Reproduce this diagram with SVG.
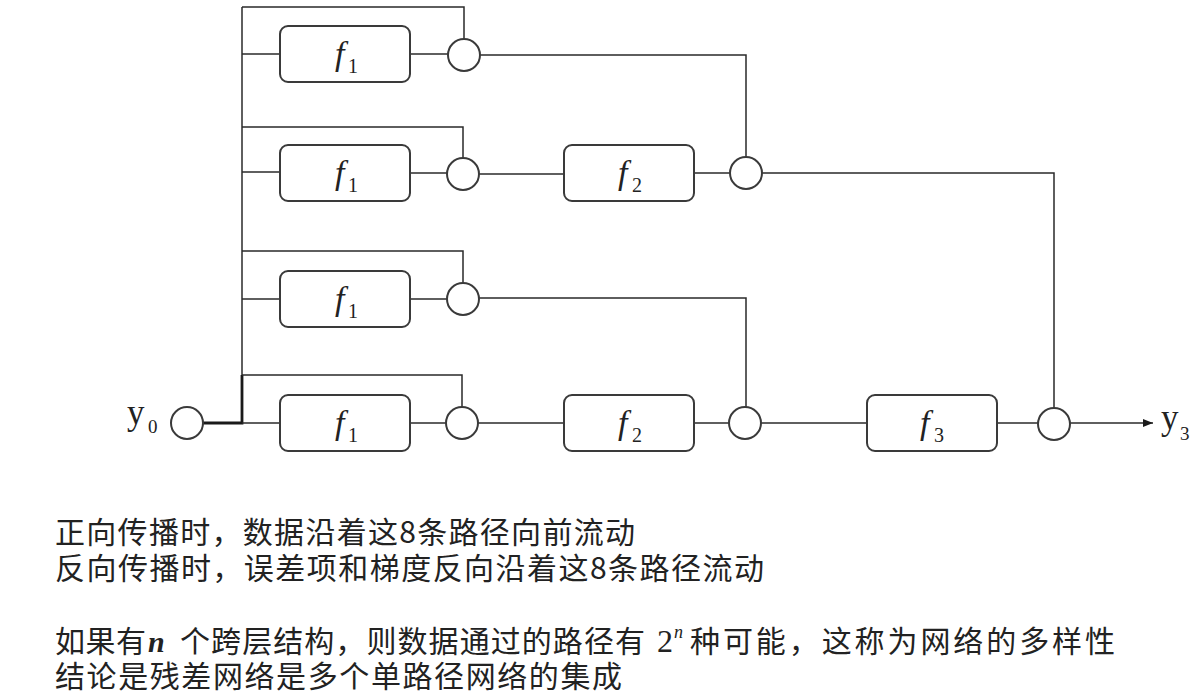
<svg xmlns="http://www.w3.org/2000/svg" width="1201" height="700" viewBox="0 0 1201 700">
<style>
.box{fill:#fff;stroke:#3a3a3a;stroke-width:2}
.node{fill:#fff;stroke:#3a3a3a;stroke-width:2}
.ln{fill:none;stroke:#2a2a2a;stroke-width:1.5}
.thick{fill:none;stroke:#1a1a1a;stroke-width:2.8}
.fl{font-family:"Liberation Serif","Times New Roman",serif;font-style:italic;font-size:34px;fill:#222}
.sub{font-family:"Liberation Serif","Times New Roman",serif;font-style:normal;font-size:20px;fill:#222}
.yl{font-family:"Liberation Serif","Times New Roman",serif;font-size:35px;fill:#222}
.ysub{font-family:"Liberation Serif","Times New Roman",serif;font-size:19px;fill:#222}
.cn{font-family:"Noto Sans CJK SC","Noto Sans",sans-serif;font-size:30px;fill:#222}
.mi{font-family:"Liberation Serif","Times New Roman",serif;font-style:italic;font-weight:bold;font-size:30px;fill:#222}
.mr{font-family:"Liberation Serif","Times New Roman",serif;font-size:32px;fill:#222}
.ms{font-family:"Liberation Serif","Times New Roman",serif;font-style:italic;font-size:18px;fill:#222}
</style>
<defs>
<marker id="arr" viewBox="0 0 10 10" refX="10" refY="5" markerWidth="10" markerHeight="10" markerUnits="userSpaceOnUse" orient="auto">
<path d="M0,1 L10,5 L0,9 Z" fill="#1a1a1a"/>
</marker>
</defs>
<rect width="1201" height="700" fill="#fff"/>

<g id="connectors">
<path class="ln" d="M242,7 V375"/>
<path class="thick" d="M203,423 H242 V375"/>
<path class="ln" d="M242,7 H464 V39"/>
<path class="ln" d="M242,54 H280"/>
<path class="ln" d="M410,54 H448"/>
<path class="ln" d="M480,55 H746 V157"/>
<path class="ln" d="M242,127 H463 V158"/>
<path class="ln" d="M242,172 H280"/>
<path class="ln" d="M410,173 H447"/>
<path class="ln" d="M479,174 H564"/>
<path class="ln" d="M694,173 H730"/>
<path class="ln" d="M762,173 H1054 V408"/>
<path class="ln" d="M242,251 H463 V283"/>
<path class="ln" d="M242,299 H280"/>
<path class="ln" d="M410,299 H447"/>
<path class="ln" d="M479,298 H746 V407"/>
<path class="ln" d="M242,375 H462 V407"/>
<path class="ln" d="M242,423 H280"/>
<path class="ln" d="M410,423 H446"/>
<path class="ln" d="M478,423 H564"/>
<path class="ln" d="M694,423 H729"/>
<path class="ln" d="M761,423 H867"/>
<path class="ln" d="M997,423 H1038"/>
<path class="ln" d="M1070,423 H1153" marker-end="url(#arr)"/>
</g>

<g id="y0">
<circle class="node" cx="187" cy="423" r="16"/>
<text class="yl" x="127" y="424">y<tspan class="ysub" x="148" y="433">0</tspan></text>
</g>

<g id="r1-f1"><rect class="box" x="280" y="26" width="130" height="56" rx="8"/><text class="fl" x="335" y="65">f<tspan class="sub" x="348" y="73">1</tspan></text></g>
<g id="r1-add"><circle class="node" cx="464" cy="55" r="16"/></g>

<g id="r2-f1"><rect class="box" x="280" y="145" width="130" height="56" rx="8"/><text class="fl" x="335" y="184">f<tspan class="sub" x="348" y="192">1</tspan></text></g>
<g id="r2-add1"><circle class="node" cx="463" cy="174" r="16"/></g>
<g id="r2-f2"><rect class="box" x="564" y="145" width="130" height="56" rx="8"/><text class="fl" x="618" y="184">f<tspan class="sub" x="632" y="192">2</tspan></text></g>
<g id="r2-add2"><circle class="node" cx="746" cy="173" r="16"/></g>

<g id="r3-f1"><rect class="box" x="280" y="271" width="130" height="56" rx="8"/><text class="fl" x="335" y="310">f<tspan class="sub" x="348" y="318">1</tspan></text></g>
<g id="r3-add"><circle class="node" cx="463" cy="299" r="16"/></g>

<g id="r4-f1"><rect class="box" x="280" y="395" width="130" height="56" rx="8"/><text class="fl" x="335" y="434">f<tspan class="sub" x="348" y="442">1</tspan></text></g>
<g id="r4-add1"><circle class="node" cx="462" cy="423" r="16"/></g>
<g id="r4-f2"><rect class="box" x="564" y="395" width="130" height="56" rx="8"/><text class="fl" x="618" y="434">f<tspan class="sub" x="632" y="442">2</tspan></text></g>
<g id="r4-add2"><circle class="node" cx="745" cy="423" r="16"/></g>
<g id="r4-f3"><rect class="box" x="867" y="395" width="130" height="56" rx="8"/><text class="fl" x="920" y="434">f<tspan class="sub" x="934" y="442">3</tspan></text></g>
<g id="r4-add3"><circle class="node" cx="1054" cy="424" r="16"/></g>

<g id="y3">
<text class="yl" x="1161" y="429">y<tspan class="ysub" x="1180" y="440">3</tspan></text>
</g>

<g id="notes">
<text class="cn" x="55" y="543" textLength="580" lengthAdjust="spacing">正向传播时，数据沿着这8条路径向前流动</text>
<text class="cn" x="55" y="579" textLength="709" lengthAdjust="spacing">反向传播时，误差项和梯度反向沿着这8条路径流动</text>
<text class="cn" x="55" y="652" textLength="91" lengthAdjust="spacing">如果有</text>
<text class="mi" x="148" y="652">n</text>
<text class="cn" x="180" y="652" textLength="465" lengthAdjust="spacing">个跨层结构，则数据通过的路径有</text>
<text class="mr" x="657" y="652">2</text>
<text class="ms" x="674" y="638">n</text>
<text class="cn" x="690" y="652" textLength="425" lengthAdjust="spacing">种可能，这称为网络的多样性</text>
<text class="cn" x="55" y="687" textLength="567" lengthAdjust="spacing">结论是残差网络是多个单路径网络的集成</text>
</g>
</svg>
